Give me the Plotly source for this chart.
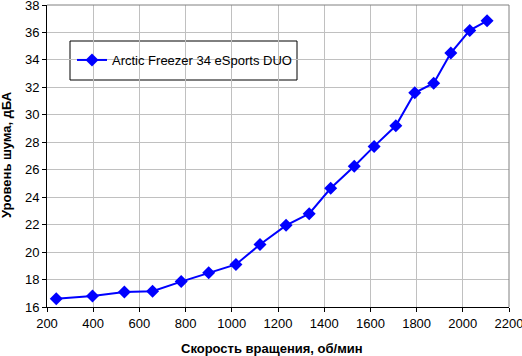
import plotly.graph_objects as go

rpm = [240, 397, 535, 657, 781, 900, 1018, 1122, 1235, 1335, 1428, 1530, 1616, 1710, 1792, 1874, 1948, 2030, 2105]
noise = [16.6, 16.8, 17.1, 17.15, 17.85, 18.5, 19.1, 20.55, 21.95, 22.8, 24.65, 26.25, 27.7, 29.2, 31.6, 32.3, 34.5, 36.15, 36.85]
series_name = "Arctic Freezer 34 eSports DUO"
x_title = "Скорость вращения, об/мин"
y_title = "Уровень шума, дБА"

L, R, T, B = 47, 13, 5, 49
W, H = 522, 356
pw, ph = W - L - R, H - T - B

def px(x):
    return (x - L) / pw

def py(y):
    return (H - B - y) / ph

fig = go.Figure()
fig.add_trace(go.Scatter(
    x=rpm, y=noise, mode="lines+markers", name=series_name,
    line=dict(color="#0000FF", width=2),
    marker=dict(symbol="diamond", size=10, color="#0000FF"),
))

font = "Arial, Liberation Sans, sans-serif"
axis_common = dict(showgrid=True, gridcolor="#C0C0C0", gridwidth=1,
                   showline=True, linecolor="black", linewidth=1, ticks="outside", ticklen=4,
                   tickcolor="black", zeroline=False, automargin=False,
                   ticklabeloverflow="allow", tickfont=dict(size=13))
fig.update_layout(
    width=W, height=H,
    margin=dict(l=L, r=R, t=T, b=B, autoexpand=False),
    paper_bgcolor="white", plot_bgcolor="white",
    font=dict(family=font, size=13, color="black"),
    showlegend=True,
    legend=dict(x=px(72), y=py(45), xanchor="left", yanchor="top",
                bgcolor="rgba(0,0,0,0)", borderwidth=0,
                font=dict(size=13, family=font)),
    xaxis=dict(range=[200, 2200], dtick=200, **axis_common),
    yaxis=dict(range=[16, 38], dtick=2, **axis_common),
    annotations=[
        dict(text="<b>" + x_title + "</b>", xref="paper", yref="paper",
             x=px(272), y=py(348), xanchor="center", yanchor="middle",
             showarrow=False, font=dict(size=13)),
        dict(text="<b>" + y_title + "</b>", xref="paper", yref="paper",
             x=px(6), y=py(155), xanchor="center", yanchor="middle", textangle=-90,
             showarrow=False, font=dict(size=13)),
    ],
    shapes=[
        dict(type="line", xref="paper", yref="paper", x0=0, x1=1, y0=1, y1=1,
             line=dict(color="#808080", width=1)),
        dict(type="line", xref="paper", yref="paper", x0=1, x1=1, y0=0, y1=1,
             line=dict(color="#808080", width=1)),
        dict(type="rect", xref="paper", yref="paper",
             x0=px(70), x1=px(297), y0=py(80), y1=py(41),
             line=dict(color="black", width=1), fillcolor="white", layer="below"),
    ],
)

fig.write_html("out.html", config={"displayModeBar": False},
               post_script="document.body.style.margin='0';document.body.style.overflow='hidden';")
